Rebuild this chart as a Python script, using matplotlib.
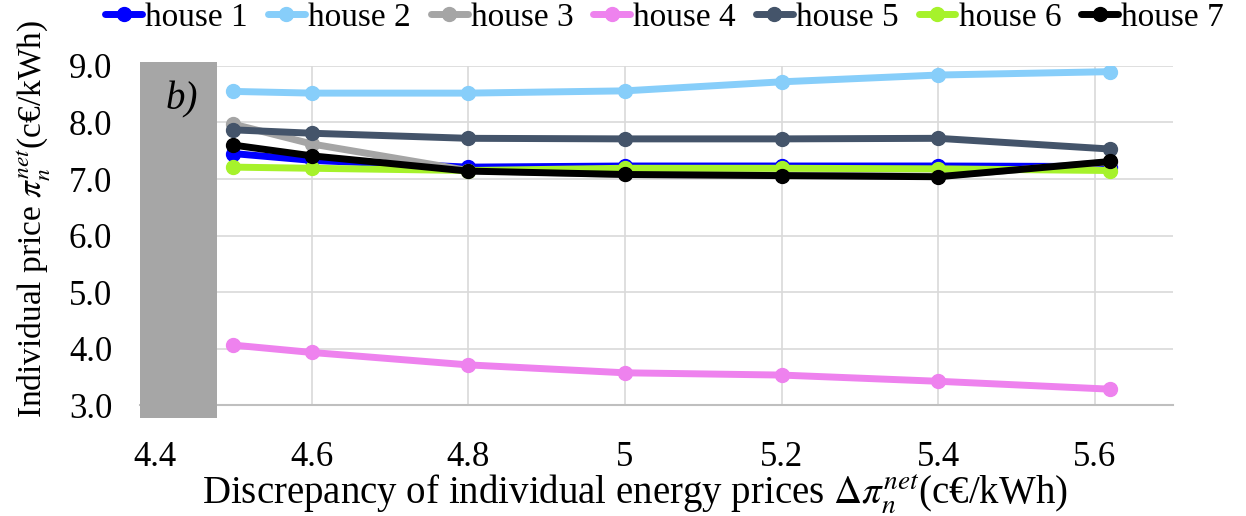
import matplotlib
matplotlib.use('Agg')
import matplotlib.pyplot as plt
from matplotlib.patches import Rectangle

# ===== DATA =====
x = [4.5, 4.6, 4.8, 5.0, 5.2, 5.4, 5.62]
house1 = [7.45, 7.33, 7.21, 7.23, 7.23, 7.23, 7.22]
house2 = [8.55, 8.52, 8.52, 8.56, 8.72, 8.84, 8.90]
house3 = [7.97, 7.62, 7.15, 7.08, 7.07, 7.05, 7.30]
house4 = [4.06, 3.93, 3.71, 3.57, 3.53, 3.42, 3.28]
house5 = [7.87, 7.81, 7.72, 7.71, 7.71, 7.72, 7.53]
house6 = [7.21, 7.19, 7.15, 7.19, 7.19, 7.18, 7.15]
house7 = [7.60, 7.41, 7.14, 7.08, 7.06, 7.04, 7.31]

series = [house1, house2, house3, house4, house5, house6, house7]
labels = ['house 1', 'house 2', 'house 3', 'house 4', 'house 5', 'house 6', 'house 7']
colors = ['#0000FF', '#87CEFA', '#A5A5A5', '#EE82EE', '#44546A', '#A6F22B', '#000000']
xticks = [4.4, 4.6, 4.8, 5.0, 5.2, 5.4, 5.6]
xticklabels = ['4.4', '4.6', '4.8', '5', '5.2', '5.4', '5.6']
yticks = [3, 4, 5, 6, 7, 8, 9]

plt.rcParams['font.family'] = ['Liberation Serif', 'DejaVu Serif']
plt.rcParams['mathtext.fontset'] = 'stix'

fig = plt.figure(figsize=(12.46, 5.16), dpi=100)
ax = fig.add_axes([0.1124, 0.2151, 0.829, 0.657])

for ys, lab, c in zip(series, labels, colors):
    ax.plot(x, ys, '-o', color=c, lw=5, markersize=10, label=lab,
            solid_capstyle='round')

ax.set_xlim(4.3807, 5.70)
ax.set_ylim(3, 9)
ax.set_xticks(xticks)
ax.set_xticklabels(xticklabels)
ax.set_yticks(yticks)
ax.set_yticklabels([f'{v:.1f}' for v in yticks])
ax.grid(True, color='#D9D9D9', lw=1.2)
ax.set_axisbelow(True)
for s in ['top', 'right', 'left']:
    ax.spines[s].set_visible(False)
ax.spines['bottom'].set_color('#BFBFBF')
ax.spines['bottom'].set_linewidth(1.5)
ax.tick_params(axis='both', length=0, labelsize=25)
ax.tick_params(axis='x', pad=26)
ax.tick_params(axis='y', pad=20)

# grey mask panel on the left
rect = Rectangle((4.3807, 2.77), 0.0983, 6.30, facecolor='#A6A6A6',
                 edgecolor='none', clip_on=False, zorder=5)
ax.add_patch(rect)
ax.text(4.4345, 8.40, 'b)', fontsize=28, style='italic', ha='center',
        va='center', zorder=6)

ax.set_xlabel(r'Discrepancy of individual energy prices $\Delta\pi_n^{net}$(c€/kWh)',
              fontsize=28)
ax.xaxis.set_label_coords(0.479, -0.20)
ax.set_ylabel(r'Individual price $\pi_n^{net}$(c€/kWh)', fontsize=24)
ax.yaxis.set_label_coords(-0.084, 0.55)

ax.legend(loc='center', bbox_to_anchor=(0.508, 1.142), ncol=7, frameon=False,
          fontsize=24, handlelength=1.1, handletextpad=0.1, columnspacing=0.6,
          borderaxespad=0)

plt.savefig('out.png', dpi=100)
